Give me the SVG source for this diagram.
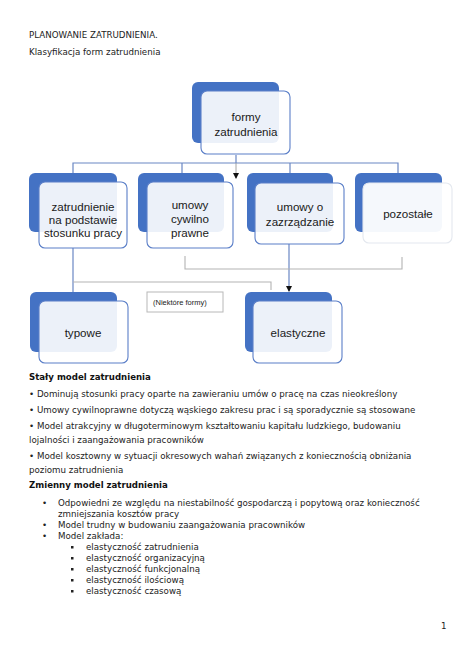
<svg xmlns="http://www.w3.org/2000/svg" width="474" height="670" viewBox="0 0 474 670">
<defs>
<style>
.back{fill:#4472c4;}
.front{fill:#ffffff;fill-opacity:0.9;stroke:#5b7fc8;stroke-width:1.1;}
.bt{font-family:"Liberation Sans",Arial,sans-serif;font-size:11.6px;fill:#1a1a1a;text-anchor:middle;}
.conn{fill:none;stroke:#6a87c4;stroke-width:1.2;}
.grey{fill:none;stroke:#b3b3b3;stroke-width:1.1;}
.tx{font-family:"DejaVu Sans",Verdana,sans-serif;font-size:8.7px;fill:#222;}
.hb{font-family:"DejaVu Sans",Verdana,sans-serif;font-size:8.6px;font-weight:bold;fill:#111;}
</style>
<marker id="ah" markerWidth="6" markerHeight="6" refX="5" refY="3" orient="auto" markerUnits="userSpaceOnUse">
<path d="M0,0 L6,3 L0,6 z" fill="#111"/>
</marker>
</defs>
<rect width="474" height="670" fill="#ffffff"/>

<text class="tx" x="29" y="38">PLANOWANIE ZATRUDNIENIA.</text>
<text class="tx" x="29" y="55">Klasyfikacja form zatrudnienia</text>

<g id="connectors">
<path class="conn" d="M236,155 V163 M73,173 V163 H398 V173 M182,163 V173 M290,163 V173"/>
<path d="M236,163 V178" fill="none" stroke="#9a9a9a" stroke-width="0.9" marker-end="url(#ah)"/>
<path class="conn" d="M73,248 V292"/>
<path class="grey" d="M73,282 H271 V290"/>
<path class="conn" d="M289,244 V291" marker-end="url(#ah)"/>
<path class="grey" d="M185,256 V269 H402 V257"/>
</g>

<g id="n-formy">
<rect class="back" x="192" y="82" width="87" height="61" rx="6"/>
<rect class="front" x="201" y="91" width="89" height="63" rx="6"/>
<text class="bt" x="246" y="121">formy</text>
<text class="bt" x="246" y="136">zatrudnienia</text>
</g>

<g id="n-stosunek">
<rect class="back" x="29" y="173" width="88" height="59" rx="6"/>
<rect class="front" x="39" y="182" width="88" height="66" rx="6"/>
<text class="bt" x="83" y="211">zatrudnienie</text>
<text class="bt" x="83" y="224">na podstawie</text>
<text class="bt" x="83" y="237">stosunku pracy</text>
</g>

<g id="n-cywilno">
<rect class="back" x="138" y="173" width="86" height="59" rx="6"/>
<rect class="front" x="147" y="182" width="86" height="66" rx="6"/>
<text class="bt" x="190" y="209">umowy</text>
<text class="bt" x="190" y="223">cywilno</text>
<text class="bt" x="190" y="237">prawne</text>
</g>

<g id="n-zarzadzanie">
<rect class="back" x="247" y="173" width="86" height="59" rx="6"/>
<rect class="front" x="255" y="183" width="89" height="61" rx="6"/>
<text class="bt" x="300" y="211">umowy o</text>
<text class="bt" x="300" y="226">zazrządzanie</text>
</g>

<g id="n-pozostale">
<rect class="back" x="355" y="173" width="87" height="59" rx="6"/>
<rect class="front" x="363" y="183" width="89" height="60" rx="6" style="fill-opacity:0.95;stroke:#e4e8ef"/>
<text class="bt" x="408" y="218">pozostałe</text>
</g>

<g id="n-niektore">
<rect x="147" y="292" width="76" height="20" fill="#ffffff" stroke="#b8b8b8" stroke-width="1"/>
<text x="153" y="305" font-family="Liberation Sans, Arial, sans-serif" font-size="7.5" fill="#222">(Niektóre formy)</text>
</g>

<g id="n-typowe">
<rect class="back" x="30" y="292" width="87" height="60" rx="6"/>
<rect class="front" x="39" y="301" width="89" height="62" rx="6"/>
<text class="bt" x="83" y="337">typowe</text>
</g>

<g id="n-elastyczne">
<rect class="back" x="245" y="292" width="87" height="60" rx="6"/>
<rect class="front" x="253" y="301" width="89" height="62" rx="6"/>
<text class="bt" x="298" y="337">elastyczne</text>
</g>

<text class="hb" x="29" y="380">Stały model zatrudnienia</text>
<text class="tx" x="29" y="397">• Dominują stosunki pracy oparte na zawieraniu umów o pracę na czas nieokreślony</text>
<text class="tx" x="29" y="413">• Umowy cywilnoprawne dotyczą wąskiego zakresu prac i są sporadycznie są stosowane</text>
<text class="tx" x="29" y="429">• Model atrakcyjny w długoterminowym kształtowaniu kapitału ludzkiego, budowaniu</text>
<text class="tx" x="29" y="443">lojalności i zaangażowania pracowników</text>
<text class="tx" x="29" y="459">• Model kosztowny w sytuacji okresowych wahań związanych z koniecznością obniżania</text>
<text class="tx" x="29" y="473">poziomu zatrudnienia</text>

<text class="hb" x="29" y="488">Zmienny model zatrudnienia</text>
<text class="tx" x="42" y="506">•</text>
<text class="tx" x="58" y="506">Odpowiedni ze względu na niestabilność gospodarczą i popytową oraz konieczność</text>
<text class="tx" x="58" y="517">zmniejszania kosztów pracy</text>
<text class="tx" x="42" y="528">•</text>
<text class="tx" x="58" y="528">Model trudny w budowaniu zaangażowania pracowników</text>
<text class="tx" x="42" y="539">•</text>
<text class="tx" x="58" y="539">Model zakłada:</text>
<g class="tx">
<rect x="71" y="546" width="2.5" height="2.5" fill="#222"/>
<text class="tx" x="86" y="550">elastyczność zatrudnienia</text>
<rect x="71" y="557" width="2.5" height="2.5" fill="#222"/>
<text class="tx" x="86" y="561">elastyczność organizacyjną</text>
<rect x="71" y="568" width="2.5" height="2.5" fill="#222"/>
<text class="tx" x="86" y="572">elastyczność funkcjonalną</text>
<rect x="71" y="579" width="2.5" height="2.5" fill="#222"/>
<text class="tx" x="86" y="583">elastyczność ilościową</text>
<rect x="71" y="590" width="2.5" height="2.5" fill="#222"/>
<text class="tx" x="86" y="594">elastyczność czasową</text>
</g>

<text class="tx" x="441" y="629">1</text>
</svg>
